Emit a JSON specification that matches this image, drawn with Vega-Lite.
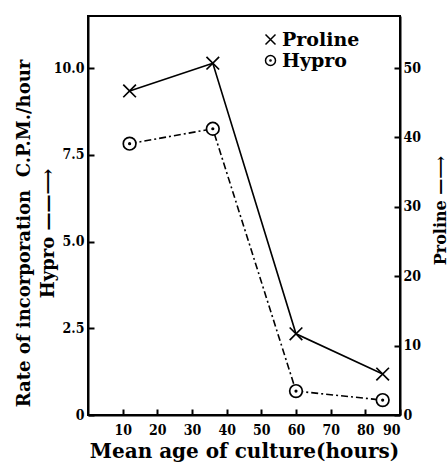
{
  "$schema": "https://vega.github.io/schema/vega-lite/v6.json",
  "width": 312,
  "height": 399,
  "autosize": "none",
  "padding": {"left": 88, "top": 16, "right": 48, "bottom": 49},
  "background": "white",
  "config": {
    "view": {"stroke": "black", "strokeWidth": 2},
    "axis": {
      "grid": false,
      "domainColor": "black",
      "domainWidth": 2,
      "tickColor": "black",
      "tickWidth": 2,
      "tickSize": -6,
      "labelColor": "black",
      "titleColor": "black",
      "labelFont": "DejaVu Serif Condensed",
      "labelFontWeight": "bold",
      "labelFontSize": 14,
      "titleFont": "DejaVu Serif",
      "titleFontWeight": "bold",
      "titleFontSize": 18
    },
    "legend": {
      "labelFont": "DejaVu Serif",
      "labelFontWeight": "bold",
      "labelFontSize": 19,
      "labelColor": "black"
    }
  },
  "data": {
    "values": [
      {"age": 12, "series": "Hypro", "value": 7.82},
      {"age": 36, "series": "Hypro", "value": 8.25},
      {"age": 60, "series": "Hypro", "value": 0.69},
      {"age": 85, "series": "Hypro", "value": 0.43},
      {"age": 12, "series": "Proline", "value": 46.7},
      {"age": 36, "series": "Proline", "value": 50.7},
      {"age": 60, "series": "Proline", "value": 11.7},
      {"age": 85, "series": "Proline", "value": 5.9}
    ]
  },
  "encoding": {
    "x": {
      "field": "age",
      "type": "quantitative",
      "scale": {"domain": [0, 90], "nice": false},
      "axis": {
        "values": [10, 20, 30, 40, 50, 60, 70, 80, 90],
        "labelPadding": 14,
        "title": "Mean age of culture(hours)",
        "titleFontSize": 20,
        "titleBaseline": "alphabetic",
        "titleY": 42
      }
    }
  },
  "layer": [
    {
      "transform": [{"filter": "datum.series == 'Hypro'"}],
      "encoding": {
        "y": {
          "field": "value",
          "type": "quantitative",
          "scale": {"domain": [0, 11.5], "nice": false},
          "axis": {
            "orient": "left",
            "values": [0, 2.5, 5, 7.5, 10],
            "labelExpr": "datum.value == 0 ? '0' : format(datum.value, '.1f')",
            "labelPadding": 10,
            "title": ["Rate of incorporation\u00a0\u00a0C.P.M./hour", "\u00a0\u00a0\u00a0\u00a0\u00a0\u00a0\u00a0\u00a0\u00a0\u00a0\u00a0\u00a0\u00a0\u00a0\u00a0\u00a0Hypro ——⟶"],
            "titleAngle": 270,
            "titleBaseline": "alphabetic",
            "titleLineHeight": 24,
            "titleX": -59,
            "titleY": 217
          }
        }
      },
      "layer": [
        {"mark": {"type": "line", "color": "black", "strokeWidth": 1.6, "strokeDash": [7, 3, 2, 3]}},
        {
          "mark": {"type": "point", "filled": false, "fill": "white", "fillOpacity": 1, "stroke": "black", "strokeWidth": 1.7, "size": 160, "opacity": 1},
          "encoding": {
            "shape": {
              "field": "series",
              "type": "nominal",
              "scale": {
                "domain": ["Proline", "Hypro"],
                "range": [
                  "M-1,-1L1,1M-1,1L1,-1",
                  "M-1,0A1,1,0,1,0,1,0A1,1,0,1,0,-1,0Z M-0.12,0A0.12,0.12,0,1,0,0.12,0A0.12,0.12,0,1,0,-0.12,0Z"
                ]
              },
              "legend": {
                "title": null,
                "orient": "none",
                "legendX": 173,
                "legendY": 14,
                "padding": 0,
                "symbolSize": 100,
                "labelOffset": 2,
                "rowPadding": 1,
                "encode": {
                  "symbols": {
                    "update": {
                      "stroke": {"value": "black"},
                      "strokeWidth": {"value": 1.5},
                      "fill": {"value": "white"},
                      "opacity": {"value": 1}
                    }
                  }
                }
              }
            }
          }
        }
      ]
    },
    {
      "transform": [{"filter": "datum.series == 'Proline'"}],
      "encoding": {
        "y": {
          "field": "value",
          "type": "quantitative",
          "scale": {"domain": [0, 57.5], "nice": false},
          "axis": {
            "orient": "right",
            "values": [0, 10, 20, 30, 40, 50],
            "labelPadding": 9,
            "title": "Proline —⟶",
            "titleFontSize": 16,
            "titleAngle": 270,
            "titleBaseline": "alphabetic",
            "titleX": 45,
            "titleY": 194
          }
        }
      },
      "layer": [
        {"mark": {"type": "line", "color": "black", "strokeWidth": 1.6}},
        {
          "mark": {"type": "point", "filled": false, "fill": "white", "fillOpacity": 1, "stroke": "black", "strokeWidth": 1.7, "size": 160, "opacity": 1},
          "encoding": {
            "shape": {
              "field": "series",
              "type": "nominal",
              "scale": {
                "domain": ["Proline", "Hypro"],
                "range": [
                  "M-1,-1L1,1M-1,1L1,-1",
                  "M-1,0A1,1,0,1,0,1,0A1,1,0,1,0,-1,0Z M-0.12,0A0.12,0.12,0,1,0,0.12,0A0.12,0.12,0,1,0,-0.12,0Z"
                ]
              },
              "legend": {
                "title": null,
                "orient": "none",
                "legendX": 173,
                "legendY": 14,
                "padding": 0,
                "symbolSize": 100,
                "labelOffset": 2,
                "rowPadding": 1,
                "encode": {
                  "symbols": {
                    "update": {
                      "stroke": {"value": "black"},
                      "strokeWidth": {"value": 1.5},
                      "fill": {"value": "white"},
                      "opacity": {"value": 1}
                    }
                  }
                }
              }
            }
          }
        }
      ]
    }
  ],
  "resolve": {"scale": {"y": "independent"}}
}
